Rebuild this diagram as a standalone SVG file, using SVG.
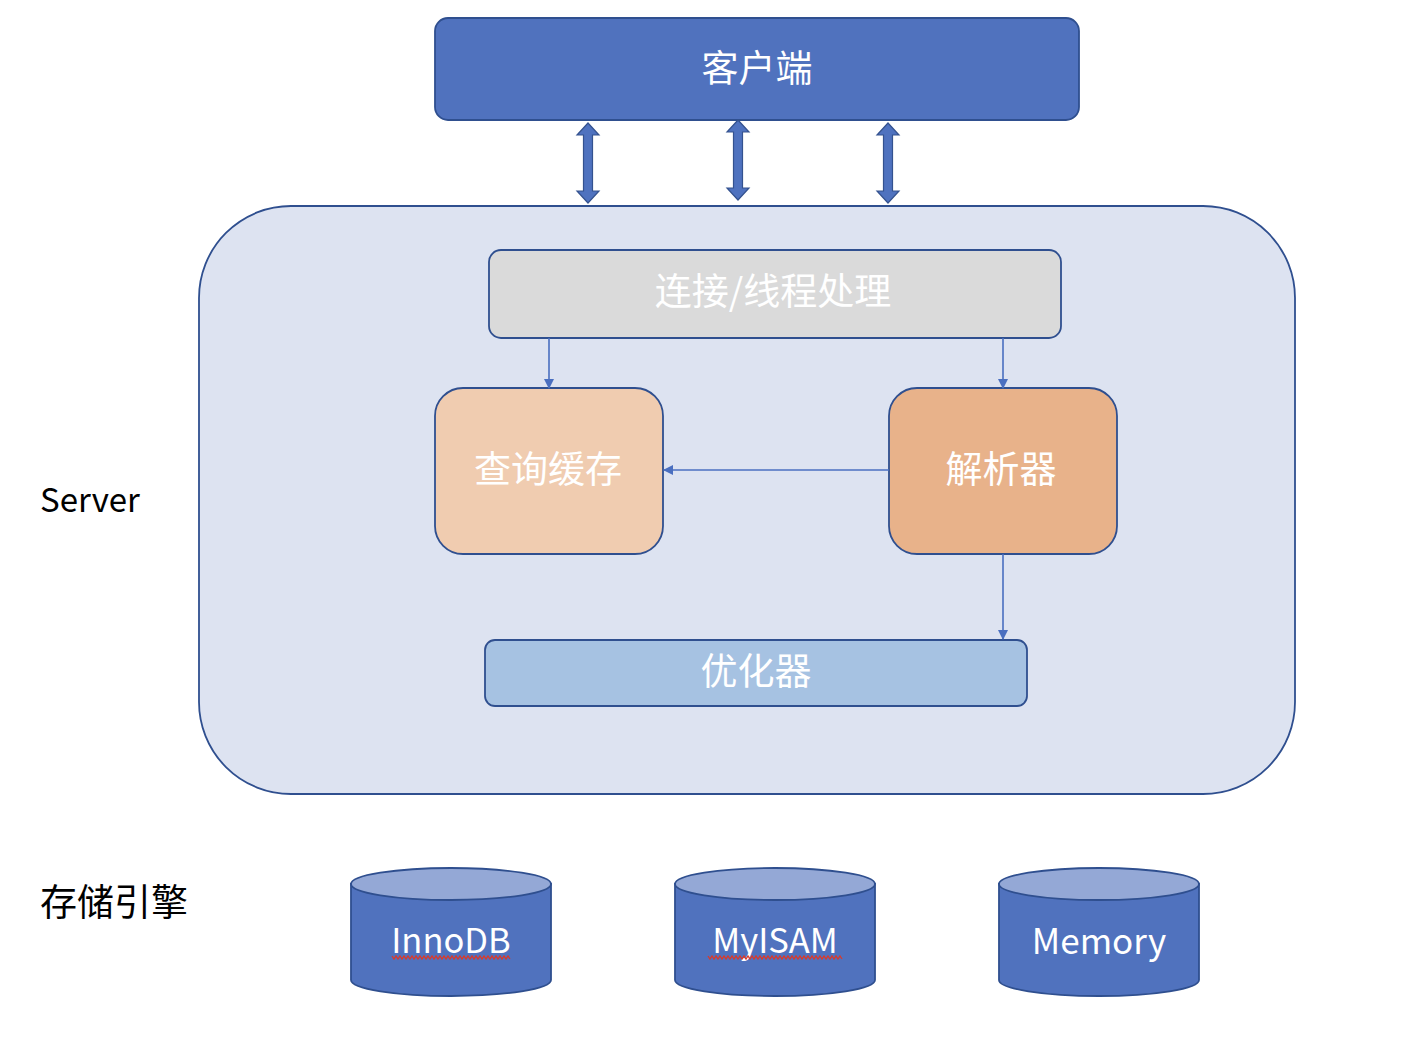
<svg xmlns="http://www.w3.org/2000/svg" width="1428" height="1043" viewBox="0 0 1428 1043">
<style>
.t{font-family:"Noto Sans CJK SC","Noto Sans",sans-serif;fill:#fff;text-anchor:middle;dominant-baseline:central}
.lbl{font-family:"Noto Sans CJK SC","Noto Sans",sans-serif;fill:#000}
.st{stroke:#2f4f8f;stroke-width:1.8}
.conn{stroke:#4a6fc0;stroke-width:1.6;fill:none;marker-end:url(#ah)}
.dbl{fill:#4f72bf;stroke:#34528f;stroke-width:1.2}
.sq{fill:none;stroke:#d93a2b;stroke-width:1.3}
</style>
<defs>
<marker id="ah" markerWidth="10" markerHeight="10" refX="9" refY="5" orient="auto" markerUnits="userSpaceOnUse">
<path d="M0,0 L10,5 L0,10 Z" fill="#4a6fc0"/>
</marker>
<path id="darrow" d="M0,0 L11,12 L4.5,12 L4.5,68 L11,68 L0,80 L-11,68 L-4.5,68 L-4.5,12 L-11,12 Z"/>
</defs>
<rect width="1428" height="1043" fill="#fff"/>

<g id="client">
<rect x="435" y="18" width="644" height="102" rx="13" fill="#5072be" class="st"/>
<text class="t" x="757" y="66" font-size="37">客户端</text>
</g>

<g id="server">
<rect x="199" y="206" width="1096" height="588" rx="92" fill="#dde3f1" class="st"/>
</g>

<g id="thread">
<rect x="489" y="250" width="572" height="88" rx="12" fill="#dadada" class="st"/>
<text class="t" x="773" y="289" font-size="37" fill="#f4f4f4">连接/线程处理</text>
</g>

<g id="cache">
<rect x="435" y="388" width="228" height="166" rx="28" fill="#f0ccb0" class="st"/>
<text class="t" x="548" y="467" font-size="37">查询缓存</text>
</g>

<g id="parser">
<rect x="889" y="388" width="228" height="166" rx="28" fill="#e8b28a" class="st"/>
<text class="t" x="1001" y="467" font-size="37">解析器</text>
</g>

<g id="optimizer">
<rect x="485" y="640" width="542" height="66" rx="10" fill="#a6c2e2" class="st"/>
<text class="t" x="756" y="669" font-size="37">优化器</text>
</g>

<g id="label-server">
<text class="lbl" x="40" y="512" font-size="33">Server</text>
</g>
<g id="label-engine">
<text class="lbl" x="40" y="916" font-size="37">存储引擎</text>
</g>

<g id="innodb">
<path d="M351,884 L351,980 A100,16 0 0 0 551,980 L551,884 Z" fill="#5072be" class="st"/>
<ellipse cx="451" cy="884" rx="100" ry="16" fill="#94a8d6" class="st"/>
<text class="t" x="451" y="938" font-size="34.5">InnoDB</text>
<polyline class="sq" points="392,956 394,959 396,956 398,959 400,956 402,959 404,956 406,959 408,956 410,959 412,956 414,959 416,956 418,959 420,956 422,959 424,956 426,959 428,956 430,959 432,956 434,959 436,956 438,959 440,956 442,959 444,956 446,959 448,956 450,959 452,956 454,959 456,956 458,959 460,956 462,959 464,956 466,959 468,956 470,959 472,956 474,959 476,956 478,959 480,956 482,959 484,956 486,959 488,956 490,959 492,956 494,959 496,956 498,959 500,956 502,959 504,956 506,959 508,956 510,959"/>
</g>

<g id="myisam">
<path d="M675,884 L675,980 A100,16 0 0 0 875,980 L875,884 Z" fill="#5072be" class="st"/>
<ellipse cx="775" cy="884" rx="100" ry="16" fill="#94a8d6" class="st"/>
<text class="t" x="775" y="938" font-size="34.5">MyISAM</text>
<polyline class="sq" points="708,956 710,959 712,956 714,959 716,956 718,959 720,956 722,959 724,956 726,959 728,956 730,959 732,956 734,959 736,956 738,959 740,956 742,959 744,956 746,959 748,956 750,959 752,956 754,959 756,956 758,959 760,956 762,959 764,956 766,959 768,956 770,959 772,956 774,959 776,956 778,959 780,956 782,959 784,956 786,959 788,956 790,959 792,956 794,959 796,956 798,959 800,956 802,959 804,956 806,959 808,956 810,959 812,956 814,959 816,956 818,959 820,956 822,959 824,956 826,959 828,956 830,959 832,956 834,959 836,956 838,959 840,956 842,959"/>
</g>

<g id="memory">
<path d="M999,884 L999,980 A100,16 0 0 0 1199,980 L1199,884 Z" fill="#5072be" class="st"/>
<ellipse cx="1099" cy="884" rx="100" ry="16" fill="#94a8d6" class="st"/>
<text class="t" x="1099" y="938" font-size="35">Memory</text>
</g>

<g id="connectors">
<use href="#darrow" class="dbl" x="588" y="123"/>
<use href="#darrow" class="dbl" x="738" y="120"/>
<use href="#darrow" class="dbl" x="888" y="123"/>
<line class="conn" x1="549" y1="338" x2="549" y2="388"/>
<line class="conn" x1="1003" y1="338" x2="1003" y2="388"/>
<line class="conn" x1="889" y1="470" x2="664" y2="470"/>
<line class="conn" x1="1003" y1="554" x2="1003" y2="639"/>
</g>
</svg>
